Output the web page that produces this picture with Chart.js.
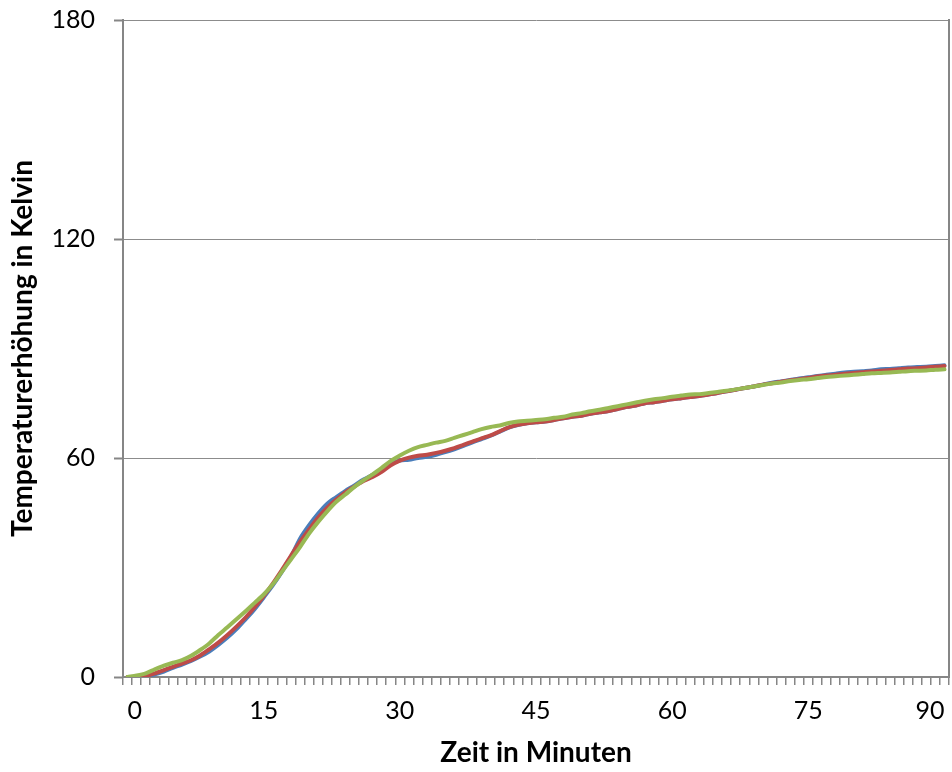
<!DOCTYPE html>
<html>
<head>
<meta charset="utf-8">
<script src="https://cdn.jsdelivr.net/npm/chart.js@4/dist/chart.umd.min.js"></script>
<style>
  body { margin: 0; background: #fff; }
  #wrap { width: 952px; height: 772px; }
</style>
</head>
<body>
<div id="wrap"><canvas id="chart"></canvas></div>
<script>
// Zeit in Minuten (Kategorien)
const minuten = [
  0, 1, 2, 3, 4, 5, 6, 7, 8, 9, 10, 11, 12, 13, 14, 15, 16, 17, 18, 19,
  20, 21, 22, 23, 24, 25, 26, 27, 28, 29, 30, 31, 32, 33, 34, 35, 36, 37, 38, 39,
  40, 41, 42, 43, 44, 45, 46, 47, 48, 49, 50, 51, 52, 53, 54, 55, 56, 57, 58, 59,
  60, 61, 62, 63, 64, 65, 66, 67, 68, 69, 70, 71, 72, 73, 74, 75, 76, 77, 78, 79,
  80, 81, 82, 83, 84, 85, 86, 87, 88, 89, 90]

// Temperaturerhoehung in K
const messungBlau = [
  0, 0, 0.1, 0.7, 1.5, 2.5, 3.4, 4.4, 5.6, 7.0, 8.8, 10.8, 13.1, 15.8, 18.6, 21.8, 25.1, 28.8, 32.9, 37.9,
  41.6, 44.8, 47.5, 49.3, 51.0, 52.5, 54.1, 55.4, 56.8, 58.4, 59.3, 59.5, 60.0, 60.3, 60.9, 61.6, 62.4, 63.3, 64.3, 65.2,
  66.1, 67.2, 68.3, 69.0, 69.5, 69.8, 70.0, 70.4, 70.9, 71.3, 71.6, 72.1, 72.5, 72.9, 73.4, 74.0, 74.4, 75.0, 75.3, 75.7,
  76.1, 76.4, 76.7, 77.0, 77.4, 77.8, 78.3, 78.7, 79.2, 79.6, 80.1, 80.6, 81.0, 81.4, 81.8, 82.1, 82.5, 82.8, 83.1, 83.4,
  83.6, 83.8, 84.0, 84.3, 84.4, 84.6, 84.8, 84.9, 85.0, 85.2, 85.4]

const messungRot = [
  0, 0, 0.3, 1.0, 1.9, 2.8, 3.7, 4.6, 5.9, 7.6, 9.4, 11.5, 13.8, 16.3, 19.1, 22.2, 25.6, 29.3, 33.2, 37.0,
  40.4, 43.7, 46.4, 48.6, 50.6, 52.2, 53.7, 54.8, 56.2, 58.0, 59.3, 60.1, 60.6, 60.9, 61.4, 62.0, 62.7, 63.6, 64.5, 65.4,
  66.2, 67.3, 68.4, 69.1, 69.5, 69.8, 70.0, 70.4, 70.9, 71.3, 71.6, 72.1, 72.5, 72.9, 73.4, 74.0, 74.4, 75.0, 75.3, 75.7,
  76.1, 76.4, 76.7, 77.0, 77.4, 77.8, 78.3, 78.7, 79.2, 79.6, 80.1, 80.5, 80.9, 81.3, 81.6, 81.9, 82.3, 82.6, 82.8, 83.1,
  83.3, 83.5, 83.7, 83.9, 84.1, 84.3, 84.5, 84.6, 84.8, 85.0, 85.2]

const messungGruen = [
  0, 0.4, 1.0, 2.1, 3.1, 3.9, 4.6, 5.8, 7.4, 9.2, 11.5, 13.6, 15.8, 18.0, 20.3, 22.6, 25.4, 28.8, 32.2, 35.6,
  39.3, 42.5, 45.4, 48.0, 50.0, 52.1, 53.9, 55.5, 57.3, 59.2, 60.7, 62.0, 63.0, 63.6, 64.2, 64.7, 65.5, 66.3, 67.1, 67.9,
  68.5, 68.9, 69.6, 70.0, 70.2, 70.4, 70.6, 71.0, 71.3, 71.9, 72.3, 72.8, 73.2, 73.7, 74.2, 74.7, 75.2, 75.7, 76.1, 76.4,
  76.8, 77.1, 77.4, 77.5, 77.8, 78.1, 78.4, 78.8, 79.2, 79.6, 80.0, 80.4, 80.7, 81.1, 81.4, 81.6, 81.9, 82.2, 82.4, 82.6,
  82.8, 83.0, 83.2, 83.3, 83.4, 83.6, 83.8, 83.9, 84.0, 84.2, 84.3]

const xBeschriftung = [0, 15, 30, 45, 60, 75, 90]
const yTicks = [0, 60, 120, 180]

const ctx = document.querySelector('#chart')
const grau = '#868686'
const schrift = 'Lato, "Open Sans", sans-serif'

new Chart(ctx, {
  type: 'line',
  data: {
    labels: minuten,
    datasets: [
      { label: 'Reihe 1', data: messungBlau, borderColor: '#4a7ebb', order: 3 },
      { label: 'Reihe 2', data: messungRot, borderColor: '#be4b48', order: 2 },
      { label: 'Reihe 3', data: messungGruen, borderColor: '#98b954', order: 1 }
    ]
  },
  options: {
    responsive: true,
    maintainAspectRatio: false,
    animation: false,
    layout: { padding: { top: 20, right: 3, left: 0, bottom: 0 } },
    elements: {
      point: { radius: 0 },
      line: { borderWidth: 4, tension: 0.3, borderCapStyle: 'round', fill: false }
    },
    plugins: { legend: { display: false }, tooltip: { enabled: false } },
    scales: {
      x: {
        type: 'category',
        offset: true,
        grid: { offset: true, drawOnChartArea: false, tickLength: 8, color: grau, lineWidth: 1.5 },
        border: { color: grau, width: 2 },
        ticks: {
          autoSkip: false, maxRotation: 0, align: 'inner', padding: 11, color: '#000',
          font: { family: schrift, size: 25 },
          callback: (v, i) => xBeschriftung.includes(minuten[i]) ? String(minuten[i]) : ''
        },
        title: {
          display: true, text: 'Zeit in Minuten', color: '#000',
          font: { family: schrift, size: 28, weight: 'bold' },
          padding: { top: 0, bottom: 2 }
        },
        afterFit: s => { s.height = 95; s.paddingLeft = 0; s.paddingRight = 0 }
      },
      y: {
        min: 0,
        max: 180,
        afterBuildTicks: s => { s.ticks = yTicks.map(v => ({ value: v })) },
        grid: {
          color: '#8c8c8c', lineWidth: 1, borderDash: [3, 2], tickLength: 9,
          tickColor: grau, tickWidth: 2, tickBorderDash: []
        },
        border: { color: grau, width: 2 },
        ticks: { padding: 19, color: '#000', font: { family: schrift, size: 25 } },
        title: {
          display: true, text: 'Temperaturerhöhung in Kelvin', color: '#000',
          font: { family: schrift, size: 28, weight: 'bold' },
          padding: { top: 6, bottom: 0 }
        },
        afterFit: s => { s.width = 123; s.paddingTop = 0; s.paddingBottom = 0 }
      },
      rechts: {
        position: 'right',
        grid: { display: false },
        ticks: { display: false },
        border: { color: grau, width: 2 },
        afterFit: s => { s.width = 0 }
      }
    }
  }
})
</script>
</body>
</html>
